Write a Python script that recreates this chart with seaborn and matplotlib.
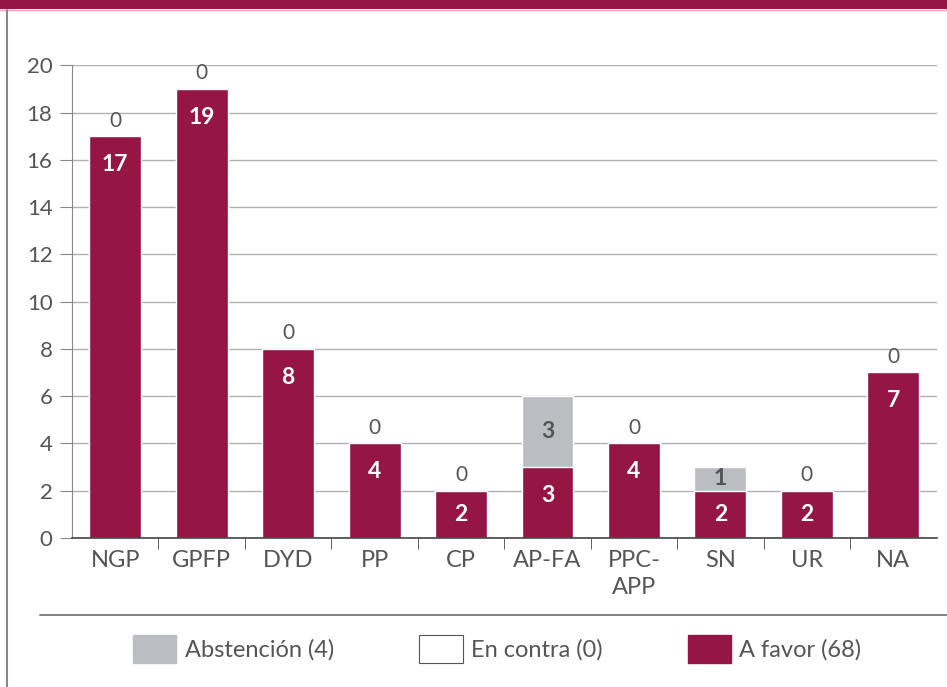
import numpy as np
import pandas as pd
import matplotlib.pyplot as plt
import matplotlib.patches as mpatches
from matplotlib.lines import Line2D
import seaborn as sns

partidos = ['NGP', 'GPFP', 'DYD', 'PP', 'CP', 'AP-FA', 'PPC-\nAPP', 'SN', 'UR', 'NA']
a_favor = [17, 19, 8, 4, 2, 3, 4, 2, 2, 7]
abstencion = [0, 0, 0, 0, 0, 3, 0, 1, 0, 0]
en_contra = [0, 0, 0, 0, 0, 0, 0, 0, 0, 0]
leyenda = ['Abstención (4)', 'En contra (0)', 'A favor (68)']

CRIMSON = '#951545'
GRAY = '#bcbdc0'
TXT = '#555555'

df = pd.DataFrame({'partido': partidos, 'favor': a_favor,
                   'abst': abstencion, 'contra': en_contra})
df['total'] = df['favor'] + df['abst'] + df['contra']

sns.set_style('white')
plt.rcParams['font.family'] = ['Lato', 'DejaVu Sans']

fig = plt.figure(figsize=(9.47, 6.87), dpi=100)
ax = fig.add_axes([0.076, 0.217, 0.913, 0.688])

# stacked look: totals in gray behind, "a favor" in crimson on top
sns.barplot(data=df, x='partido', y='total', color=GRAY, width=0.6,
            saturation=1, ax=ax)
sns.barplot(data=df, x='partido', y='favor', color=CRIMSON, width=0.6,
            saturation=1, ax=ax)
gray_bars = ax.containers[0]

ax.set_ylim(0, 20)
ax.set_xlim(-0.5, len(df) - 0.5)

# value labels
off = 1.2  # ~28 px below the top of the bar
for i, (f, a) in enumerate(zip(df['favor'], df['abst'])):
    y = f - off if f > 2 * off else f / 2
    ax.text(i, y, str(f), ha='center', va='center', color='white',
            fontsize=16.5, fontweight='bold')
    if a > 0:
        ax.text(i, f + a / 2, str(a), ha='center', va='center', color=TXT,
                fontsize=16.5, fontweight='bold')
ax.bar_label(gray_bars, labels=[str(c) if a == 0 else '' for a, c in zip(df['abst'], df['contra'])],
             padding=4, color=TXT, fontsize=15)

ax.set_yticks(range(0, 21, 2))
ax.set_xlabel('')
ax.set_ylabel('')
ax.yaxis.grid(True, color='#b0b0b0', linewidth=1)
ax.set_axisbelow(True)
ax.axhline(20, color='#444444', linewidth=1.2, zorder=0)

ax.tick_params(axis='y', length=9, color='#888888', labelcolor=TXT, labelsize=16,
               left=True, pad=5)
ax.tick_params(axis='x', which='major', length=0, labelcolor=TXT, labelsize=17, pad=9)
for lbl in ax.get_xticklabels():
    lbl.set_linespacing(1.35)
ax.set_xticks(np.arange(0.5, len(df) - 1, 1), minor=True)
ax.tick_params(axis='x', which='minor', length=8, color='#444444', bottom=True)

for s in ['top', 'right']:
    ax.spines[s].set_visible(False)
ax.spines['left'].set_color('#888888')
ax.spines['bottom'].set_color('#444444')
ax.spines['bottom'].set_linewidth(1.2)

# frame decorations
fig.add_artist(mpatches.Rectangle((0, 1 - 9 / 687), 1, 9 / 687, transform=fig.transFigure,
                                  color=CRIMSON, linewidth=0))
fig.add_artist(Line2D([0, 1], [1 - 10 / 687] * 2, color='#e3a6bd', linewidth=1))
fig.add_artist(Line2D([7 / 947, 7 / 947], [0, 1 - 10 / 687], color='#888888', linewidth=1.5))
fig.add_artist(Line2D([40 / 947, 1], [1 - 615 / 687] * 2, color='#777777', linewidth=1.3))

handles = [mpatches.Patch(facecolor=GRAY, edgecolor=GRAY),
           mpatches.Patch(facecolor='white', edgecolor='#555555', linewidth=0.8),
           mpatches.Patch(facecolor=CRIMSON, edgecolor=CRIMSON)]
fig.legend(handles, leyenda, loc='center', bbox_to_anchor=(0.525, 1 - 649 / 687),
           ncol=3, frameon=False, fontsize=17, labelcolor=TXT,
           handlelength=1.85, handleheight=1.4, handletextpad=0.35, columnspacing=3.6)

fig.savefig('out.png', dpi=100)
